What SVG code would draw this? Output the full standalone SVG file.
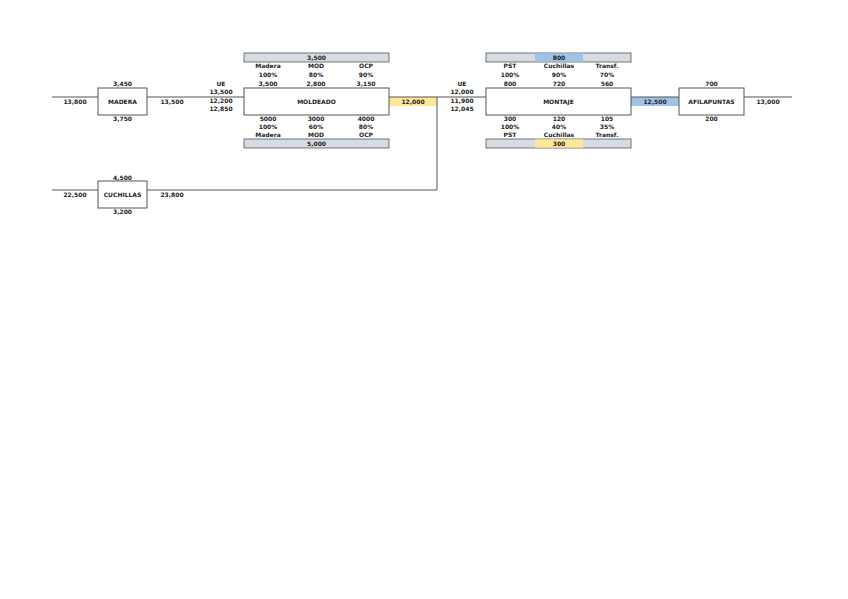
<svg xmlns="http://www.w3.org/2000/svg" width="848" height="599" viewBox="0 0 848 599">
<style>
text{font-family:"DejaVu Sans","Liberation Sans",sans-serif;font-size:6px;font-weight:bold;fill:#222;text-anchor:middle}
.box{fill:#fff;stroke:#555;stroke-width:1}
.bar{fill:#d6dce4;stroke:#555;stroke-width:0.8}
.ln{stroke:#555;stroke-width:1;fill:none}
</style>
<rect width="848" height="599" fill="#fff"/>
<g id="connectors">
<line class="ln" x1="52" y1="97" x2="98" y2="97"/>
<line class="ln" x1="147" y1="97" x2="244" y2="97"/>
<rect x="389" y="97" width="48" height="9" fill="#ffe699"/>
<path class="ln" d="M389 97 H437 V190 H147"/>
<line class="ln" x1="52" y1="190" x2="98" y2="190"/>
<line class="ln" x1="437" y1="97" x2="486" y2="97"/>
<rect x="631" y="97" width="48" height="9" fill="#9dc3e6"/>
<line class="ln" x1="631" y1="97" x2="679" y2="97"/>
<line class="ln" x1="744" y1="97" x2="792" y2="97"/>
<text x="75" y="104">13,800</text>
<text x="172" y="104">13,500</text>
<text x="413" y="104">12,000</text>
<text x="655" y="104">12,500</text>
<text x="768" y="104">13,000</text>
<text x="75" y="197">22,500</text>
<text x="172" y="197">23,800</text>
</g>
<g id="madera">
<rect class="box" x="98" y="88" width="49" height="27"/>
<text x="122.5" y="104">MADERA</text>
<text x="122.5" y="86">3,450</text>
<text x="122.5" y="121">3,750</text>
</g>
<g id="cuchillas">
<rect class="box" x="98" y="181" width="49" height="27"/>
<text x="122.5" y="197">CUCHILLAS</text>
<text x="122.5" y="180">4,500</text>
<text x="122.5" y="214">3,200</text>
</g>
<g id="moldeado">
<text x="221" y="86">UE</text>
<text x="221" y="94">13,500</text>
<text x="221" y="103">12,200</text>
<text x="221" y="111">12,850</text>
<rect class="bar" x="244" y="53" width="145" height="9"/>
<text x="316.5" y="60">3,500</text>
<text x="268" y="68">Madera</text>
<text x="316" y="68">MOD</text>
<text x="366" y="68">OCP</text>
<text x="268" y="77">100%</text>
<text x="316" y="77">80%</text>
<text x="366" y="77">90%</text>
<text x="268" y="86">3,500</text>
<text x="316" y="86">2,800</text>
<text x="366" y="86">3,150</text>
<rect class="box" x="244" y="88" width="145" height="27"/>
<text x="316.5" y="104">MOLDEADO</text>
<text x="268" y="121">5000</text>
<text x="316" y="121">3000</text>
<text x="366" y="121">4000</text>
<text x="268" y="129">100%</text>
<text x="316" y="129">60%</text>
<text x="366" y="129">80%</text>
<text x="268" y="137">Madera</text>
<text x="316" y="137">MOD</text>
<text x="366" y="137">OCP</text>
<rect class="bar" x="244" y="139" width="145" height="9"/>
<text x="316.5" y="146">5,000</text>
</g>
<g id="montaje">
<text x="462" y="86">UE</text>
<text x="462" y="94">12,000</text>
<text x="462" y="103">11,900</text>
<text x="462" y="111">12,045</text>
<rect class="bar" x="486" y="53" width="145" height="9"/>
<rect x="535" y="53.4" width="48" height="8.2" fill="#9dc3e6"/>
<text x="559" y="60">800</text>
<text x="510" y="68">PST</text>
<text x="559" y="68">Cuchillas</text>
<text x="607" y="68">Transf.</text>
<text x="510" y="77">100%</text>
<text x="559" y="77">90%</text>
<text x="607" y="77">70%</text>
<text x="510" y="86">800</text>
<text x="559" y="86">720</text>
<text x="607" y="86">560</text>
<rect class="box" x="486" y="88" width="145" height="27"/>
<text x="558.5" y="104">MONTAJE</text>
<text x="510" y="121">300</text>
<text x="559" y="121">120</text>
<text x="607" y="121">105</text>
<text x="510" y="129">100%</text>
<text x="559" y="129">40%</text>
<text x="607" y="129">35%</text>
<text x="510" y="137">PST</text>
<text x="559" y="137">Cuchillas</text>
<text x="607" y="137">Transf.</text>
<rect class="bar" x="486" y="139" width="145" height="9"/>
<rect x="535" y="139.4" width="48" height="8.2" fill="#ffe699"/>
<text x="559" y="146">300</text>
</g>
<g id="afilapuntas">
<rect class="box" x="679" y="88" width="65" height="27"/>
<text x="711.5" y="104">AFILAPUNTAS</text>
<text x="711.5" y="86">700</text>
<text x="711.5" y="121">200</text>
</g>
</svg>
